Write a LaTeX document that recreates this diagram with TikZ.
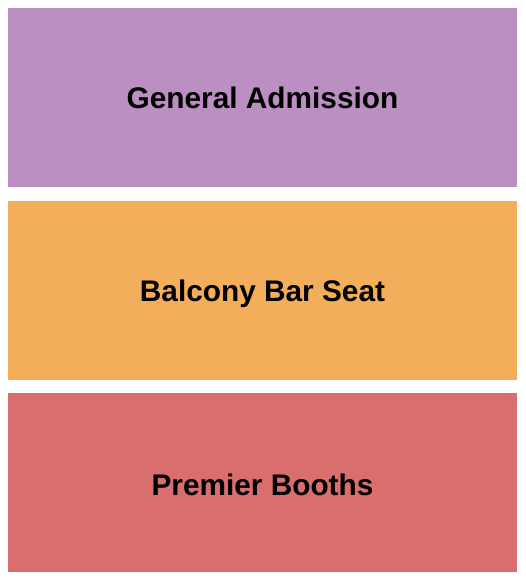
\documentclass[tikz,border=0pt]{standalone}
\usepackage{fontspec}
\setmainfont{Liberation Sans}
\usepackage{tikz}
\usetikzlibrary{positioning}
\definecolor{gapurple}{HTML}{BB8FC2}
\definecolor{balconyorange}{HTML}{F3AE5B}
\definecolor{boothred}{HTML}{D96E6F}
\tikzset{
  section/.style={rectangle, draw=none, minimum width=509pt, minimum height=179pt, inner sep=0pt,
                  text height=21.5pt, text depth=0pt,
                  font=\fontsize{29.8}{34}\selectfont\bfseries, text=black},
  purple/.style={fill=gapurple},
  orange/.style={fill=balconyorange},
  red/.style={fill=boothred, text height=27pt},
}

\begin{document}
\begin{tikzpicture}[x=1pt, y=-1pt]
\useasboundingbox (0,0) rectangle (525,580);
%Sections
\node[section, purple] (admission) at (262.5,97.5) {General Admission};
\node[section, orange] (balcony) [below=14pt of admission] {Balcony Bar Seat};
\node[section, red] (booths) [below=12pt of balcony] {Premier Booths};
\end{tikzpicture}
\end{document}
